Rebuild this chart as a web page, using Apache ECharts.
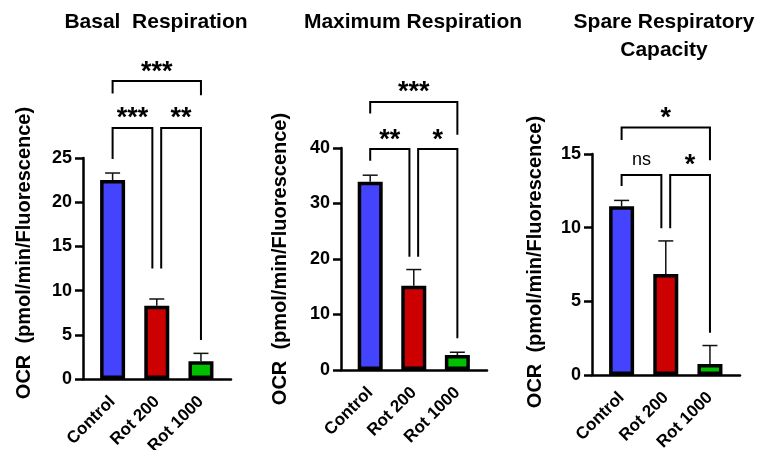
<!DOCTYPE html>
<html>
<head>
<meta charset="utf-8">
<script src="https://cdn.jsdelivr.net/npm/echarts@6/dist/echarts.min.js"></script>
<style>
  html, body { margin: 0; padding: 0; background: #fff; }
  #chart { width: 774px; height: 450px; }
</style>
</head>
<body>
<div id="chart"></div>
<script>
// groups
const categories = ["Control", "Rot 200", "Rot 1000"];
const barColors = ["#4444ff", "#cc0000", "#00c000"];

// mean and upper SEM for each panel
const basalMean = [22.5, 8.3, 2.0];
const basalErr = [0.8, 0.75, 0.9];
const maxMean = [33.9, 15.2, 2.7];
const maxErr = [1.2, 2.9, 0.5];
const spareMean = [11.45, 6.85, 0.75];
const spareErr = [0.4, 2.25, 1.25];

// brackets: [from, to, level, left leg end, right leg end]
const basalBrackets = [[0, 2, 33.7, 32.3, 32.1], [0, 0.9, 28.4, 24.9, 12.5], [1.1, 2, 28.4, 12.5, 4.4]];
const basalSig = ["***", "***", "**"];
const maxBrackets = [[0, 2, 48.3, 46.2, 42.4], [0, 0.9, 39.8, 37.7, 20.4], [1.1, 2, 39.8, 20.4, 5.7]];
const maxSig = ["***", "**", "*"];
const spareBrackets = [[0, 2, 16.8, 15.95, 14.57], [0, 0.9, 13.58, 12.83, 9.96], [1.1, 2, 13.58, 9.96, 2.87]];
const spareSig = ["*", "ns", "*"];

// y axis ranges
const yMax = [25, 40, 15];
const yStep = [5, 10, 5];

const panels = [
  { title: "Basal  Respiration", mean: basalMean, err: basalErr, br: basalBrackets, sig: basalSig },
  { title: "Maximum Respiration", mean: maxMean, err: maxErr, br: maxBrackets, sig: maxSig },
  { title: "Spare Respiratory\nCapacity", mean: spareMean, err: spareErr, br: spareBrackets, sig: spareSig }
];

const FONT = "Liberation Sans, Arial, sans-serif";
const grids = [
  { left: 83, top: 158, width: 148, height: 221, outerBoundsMode: "none", containLabel: false },
  { left: 341, top: 148, width: 146, height: 222, outerBoundsMode: "none", containLabel: false },
  { left: 592, top: 154, width: 148, height: 221, outerBoundsMode: "none", containLabel: false }
];
const titleX = [156, 413, 664];
const nameX = [24, 280, 535];
const nameY = [253, 259, 262];

const xAxes = [];
const yAxes = [];
const series = [];
const titles = [];
const graphics = [];

panels.forEach((p, i) => {
  xAxes.push({
    gridIndex: i,
    type: "value",
    min: -0.67,
    max: 2.68,
    axisLine: { onZero: false, lineStyle: { color: "#000", width: 2.5 } },
    axisTick: { show: false },
    splitLine: { show: false },
    axisLabel: {
      customValues: [0, 1, 2],
      formatter: v => categories[Math.round(v)],
      rotate: 45,
      margin: 20,
      color: "#000",
      fontWeight: "bold",
      fontSize: 17,
      fontFamily: FONT
    }
  });
  yAxes.push({
    gridIndex: i,
    type: "value",
    min: 0,
    max: yMax[i],
    interval: yStep[i],
    axisLine: { show: true, onZero: false, lineStyle: { color: "#000", width: 2.5 } },
    axisTick: { show: true, length: 8, lineStyle: { color: "#000", width: 2.5 } },
    splitLine: { show: false },
    axisLabel: { color: "#000", fontWeight: "bold", fontSize: 18, fontFamily: FONT, margin: 11 }
  });

  // error bars (drawn first so the bar border covers the lower part)
  series.push({
    type: "custom",
    xAxisIndex: i,
    yAxisIndex: i,
    silent: true,
    data: p.mean.map((m, k) => [k, m, m + p.err[k]]),
    renderItem: (params, api) => {
      const base = api.coord([api.value(0), api.value(1)]);
      const top = api.coord([api.value(0), api.value(2)]);
      const style = { stroke: "#111", lineWidth: 1.5 };
      return {
        type: "group",
        children: [
          { type: "line", shape: { x1: base[0], y1: base[1], x2: top[0], y2: top[1] }, style },
          { type: "line", shape: { x1: top[0] - 7.5, y1: top[1], x2: top[0] + 7.5, y2: top[1] }, style }
        ]
      };
    }
  });

  series.push({
    type: "bar",
    xAxisIndex: i,
    yAxisIndex: i,
    barWidth: 25,
    silent: true,
    data: p.mean.map((m, k) => ({
      value: [k, m],
      itemStyle: { color: barColors[k], borderColor: "#000", borderWidth: 3.5 }
    }))
  });

  // significance brackets
  series.push({
    type: "custom",
    xAxisIndex: i,
    yAxisIndex: i,
    silent: true,
    clip: false,
    data: p.br,
    renderItem: (params, api) => {
      const x1 = api.value(0), x2 = api.value(1), lv = api.value(2);
      const a = api.coord([x1, api.value(3)]);
      const b = api.coord([x1, lv]);
      const c = api.coord([x2, lv]);
      const d = api.coord([x2, api.value(4)]);
      const label = p.sig[params.dataIndex];
      const isNs = label === "ns";
      return {
        type: "group",
        children: [
          {
            type: "polyline",
            shape: { points: [a, b, c, d] },
            style: { stroke: "#000", lineWidth: 2, fill: null }
          },
          {
            type: "text",
            x: (b[0] + c[0]) / 2,
            y: b[1] - (isNs ? 15 : 9),
            style: {
              text: label,
              fill: "#000",
              font: (isNs ? "normal 18px " : "bold 27px ") + FONT,
              align: "center",
              verticalAlign: "middle"
            }
          }
        ]
      };
    }
  });

  titles.push({
    text: p.title,
    left: titleX[i],
    top: 8,
    padding: 0,
    textAlign: "center",
    textStyle: { color: "#000", fontWeight: "bold", fontSize: 21, fontFamily: FONT, lineHeight: 28 }
  });

  graphics.push({
    type: "text",
    x: nameX[i],
    y: nameY[i],
    rotation: Math.PI / 2,
    style: {
      text: "OCR  (pmol/min/Fluorescence)",
      fill: "#000",
      font: "bold 20px " + FONT,
      align: "center",
      verticalAlign: "middle"
    }
  });
});

const chart = echarts.init(document.getElementById("chart"));
chart.setOption({
  animation: false,
  backgroundColor: "#fff",
  title: titles,
  grid: grids,
  xAxis: xAxes,
  yAxis: yAxes,
  series: series,
  graphic: graphics
});
</script>
</body>
</html>
